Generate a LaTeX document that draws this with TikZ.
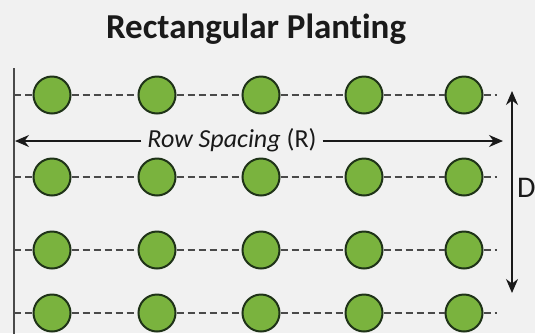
\documentclass[tikz,border=0pt]{standalone}
\usepackage{fontspec}
\setmainfont{Carlito}[Ligatures=NoCommon]
\usetikzlibrary{arrows.meta}
\definecolor{bgc}{HTML}{F1F1F1}
\definecolor{plantfill}{HTML}{7AB33E}
\definecolor{plantedge}{HTML}{1F3318}
\definecolor{dashc}{HTML}{4A4A4A}
\definecolor{txt}{HTML}{1A1A1A}
\tikzset{
  plant/.style={circle, draw=plantedge, line width=2pt, fill=plantfill, minimum size=37pt, inner sep=0pt},
  rowline/.style={dashc, line width=1.8pt, dash pattern=on 7pt off 4pt},
  dimarrow/.style={txt, line width=1.8pt, -{Stealth[length=14pt,width=12pt]}},
  dimarrows/.style={txt, line width=1.8pt, {Stealth[length=14pt,width=12pt]}-{Stealth[length=14pt,width=12pt]}}
}
\begin{document}
\begin{tikzpicture}[x=1pt,y=-1pt]
\fill[bgc] (0,0) rectangle (535,333);
\useasboundingbox (0,0) rectangle (535,333);
\node[txt, font=\bfseries\fontsize{35}{40}\selectfont, anchor=base] (title) at (256,38) {Rectangular Planting};
\coordinate (ltop) at (14,68);
\coordinate (lbot) at (14,335);
\draw[line width=1.8pt, dashc] (ltop) -- (lbot);
\foreach \r/\y in {1/95,2/177,3/250,4/313}{
  \coordinate (L\r) at (14,\y);
  \coordinate (E\r) at (497,\y);
  \foreach \c/\x in {1/52,2/157,3/261,4/364,5/464}{
    \node[plant] (p\r\c) at (\x,\y) {};
  }
  \draw[rowline] (L\r) -- (p\r1);
  \draw[rowline] (p\r1) -- (p\r2);
  \draw[rowline] (p\r2) -- (p\r3);
  \draw[rowline] (p\r3) -- (p\r4);
  \draw[rowline] (p\r4) -- (p\r5);
  \draw[rowline] (p\r5) -- (E\r);
}
\node[txt, font=\fontsize{26}{30}\selectfont, inner sep=6pt, anchor=base] (rs) at (232,147) {\itshape Row Spacing\/ \upshape(R)};
\coordinate (rsl) at (15,141);
\coordinate (rsr) at (503,141);
\draw[dimarrow] (rs.west |- rsl) -- (rsl);
\draw[dimarrow] (rs.east |- rsr) -- (rsr);
\coordinate (dtop) at (512,91);
\coordinate (dbot) at (512,293);
\draw[dimarrows] (dtop) -- (dbot);
\node[txt, font=\fontsize{30}{34}\selectfont, anchor=base west, inner sep=0pt] (dl) at (517,197) {D};
\end{tikzpicture}
\end{document}
